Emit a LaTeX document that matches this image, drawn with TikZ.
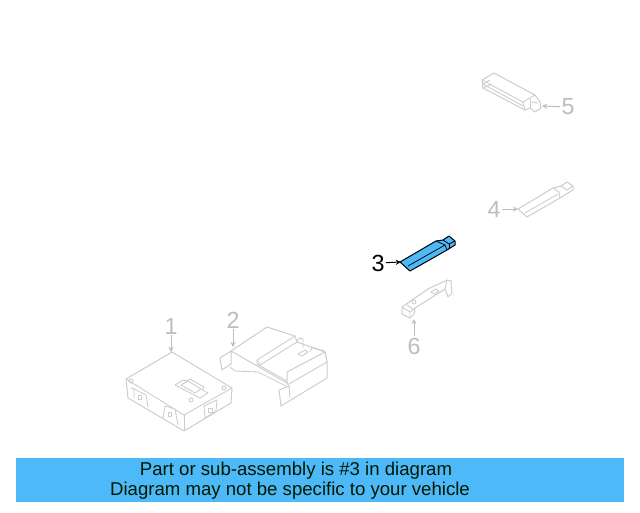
\documentclass[tikz,border=0pt]{standalone}
\usepackage{fontspec}
\setmainfont{Liberation Sans}
\usetikzlibrary{arrows}
\definecolor{partgray}{HTML}{CDCDCD}
\definecolor{labelgray}{HTML}{BDBDBD}
\definecolor{bandblue}{HTML}{4DB9F8}
\tikzstyle{part} = [draw=partgray, line width=0.75pt, line join=round, fill=white]
\tikzstyle{detail} = [draw=partgray, line width=0.65pt, line join=round]
\tikzstyle{active} = [draw=black, line width=0.75pt, line join=round, fill=bandblue]
\tikzstyle{activeline} = [draw=black, line width=0.55pt, line join=round]
\tikzstyle{callout} = [text=labelgray, font=\fontsize{17.5}{19}\selectfont, inner sep=0pt, outer sep=1pt]
\tikzstyle{calloutactive} = [callout, text=black]
\tikzstyle{arrow} = [draw=labelgray, line width=0.75pt, ->, >=stealth]
\tikzstyle{arrowactive} = [draw=black, line width=0.75pt, ->, >=stealth]
\tikzstyle{bandtext} = [text=black!90!green, font=\fontsize{13.95}{15}\selectfont, inner sep=0pt]

\begin{document}
\begin{tikzpicture}[x=0.75pt, y=-0.75pt]
    \useasboundingbox (0,0) rectangle (640,512);

    % part 1
    \draw [part] (126,379) -- (172,352) -- (232,388) -- (231,403) -- (184,431) -- (128,398) -- cycle;
    \draw [detail] (126,379) -- (184,415) -- (232,388);
    \draw [detail] (184,415) -- (184,431);
    \draw [detail] (175,385) -- (183,380) -- (187,381) -- (190,379) -- (204,387) -- (202,390) -- (208,393) -- (200,398) -- (175,385);
    \draw [detail] (181,385) -- (188,381) -- (201,389) -- (195,393) -- cycle;
    \draw [detail] (131,388) -- (134,389) -- (134,398);
    \draw [detail] (134,389) -- (146,395) -- (148,407);
    \draw [detail] (165,406) -- (175,409) -- (178,425);
    \draw [detail] (165,406) -- (163,419);
    \draw [detail] (204,406) -- (217,400) -- (216,411) -- (205,418) -- cycle;
    \draw [detail] (208,408) rectangle (212,412);
    \draw [detail] (138,395) rectangle (141,399);
    \draw [detail] (168,412) rectangle (171,416);
    \draw [detail] (131,381) circle (2);
    \draw [detail] (224,388) circle (2);
    \draw [detail] (191,400) circle (2);

    % part 2
    \draw [part] (220,358) -- (231,351) -- (231,364) -- (222,370) -- cycle;
    \draw [part] (231,351) -- (267,327) -- (295,336) -- (297,342) -- (325,352) -- (327,362) -- (287,383) -- cycle;
    \draw [detail] (257,360) -- (295,336);
    \draw [detail] (257,360) -- (260,365) -- (297,342);
    \draw [detail] (257,360) -- (257,364) -- (287,381);
    \draw [detail] (298,354) -- (305,350) -- (308,352) -- (302,356) -- cycle;
    \draw [detail] (297,342) -- (299,338) -- (303,339) -- (303,348);
    \draw [detail] (310,352) -- (312,348) -- (316,348) -- (319,350) -- (323,350) -- (325,352);
    \draw [part] (287,372) -- (325,352) -- (327,362) -- (327,378) -- (281,406) -- (279,390) -- (289,386) -- (287,383) -- cycle;
    \draw [detail] (230,367) -- (235,371) -- (258,372) -- (286,386);
    \draw [detail] (289,386) -- (290,398);
    \draw [detail] (289,384) -- (327,362);

    % part 3
    \draw [active] (400,262) -- (436,241) -- (443,240) -- (449,236) -- (455,241) -- (455,245) -- (447,250) -- (410,271) -- cycle;
    \draw [activeline] (408,266) -- (445,245);
    \draw [activeline] (436,241) -- (445,245) -- (447,250);
    \draw [activeline] (443,240) -- (449,244) -- (455,241);
    \draw [activeline] (449,244) -- (449,248);

    % part 4
    \draw [part] (518,209) -- (553,188) -- (561,186) -- (567,182) -- (573,186) -- (573,190) -- (560,198) -- (527,217) -- cycle;
    \draw [detail] (525,213) -- (558,194);
    \draw [detail] (553,188) -- (559,192) -- (560,198);
    \draw [detail] (561,186) -- (567,190) -- (573,186);

    % part 5
    \draw [part] (482,80) -- (494,73) -- (535,95) -- (540,102) -- (541,108) -- (535,112) -- (530,108) -- (525,110) -- (483,88) -- cycle;
    \draw [detail] (482,80) -- (523,102) -- (535,95);
    \draw [detail] (523,102) -- (525,110);
    \draw [detail] (483,84) -- (523,106);
    \draw [detail] (483,84) -- (490,80);
    \draw [detail] (483,88) -- (492,84);
    \draw [detail] (530,99) -- (530,108);
    \draw [detail] (532,102) -- (538,103);

    % part 6
    \draw [part] (402,307) -- (428,289) -- (447,280) -- (451,281) -- (452,293) -- (448,297) -- (445,289) -- (415,308) -- (414,314) -- (410,318) -- (402,314) -- cycle;
    \draw [detail] (402,307) -- (410,312) -- (410,318);
    \draw [detail] (410,312) -- (415,308);
    \draw [detail] (407,305) -- (413,309);
    \draw [detail] (431,292) -- (436,289) -- (439,291) -- (434,294) -- cycle;
    \draw [detail] (414,302) circle (2);
    \draw [detail] (447,280) -- (445,289);

    % callouts
    \coordinate (tipA) at (171,352);
    \coordinate (tipB) at (233,347);
    \coordinate (tipC) at (401,262);
    \coordinate (tipD) at (518,209);
    \coordinate (tipE) at (542,106);
    \coordinate (tipF) at (414,319);
    \node (lblA) [callout] at (171,326) {1};
    \node (lblB) [callout] at (233,320) {2};
    \node (lblC) [calloutactive] at (378,263) {3};
    \node (lblD) [callout] at (494,209) {4};
    \node (lblE) [callout] at (568,107) {5};
    \node (lblF) [callout] at (414,346) {6};
    \draw [arrow] (lblA) -- (tipA);
    \draw [arrow] (lblB) -- (tipB);
    \draw [arrowactive] (lblC) -- (tipC);
    \draw [arrow] (lblD) -- (tipD);
    \draw [arrow] (lblE) -- (tipE);
    \draw [arrow] (lblF) -- (tipF);

    % band
    \fill [bandblue] (16,458) rectangle (624,502);
    \node (lineA) [bandtext] at (296,471) {Part or sub-assembly is \#3 in diagram};
    \node (lineB) [bandtext] at (290,491) {Diagram may not be specific to your vehicle};

\end{tikzpicture}
\end{document}
